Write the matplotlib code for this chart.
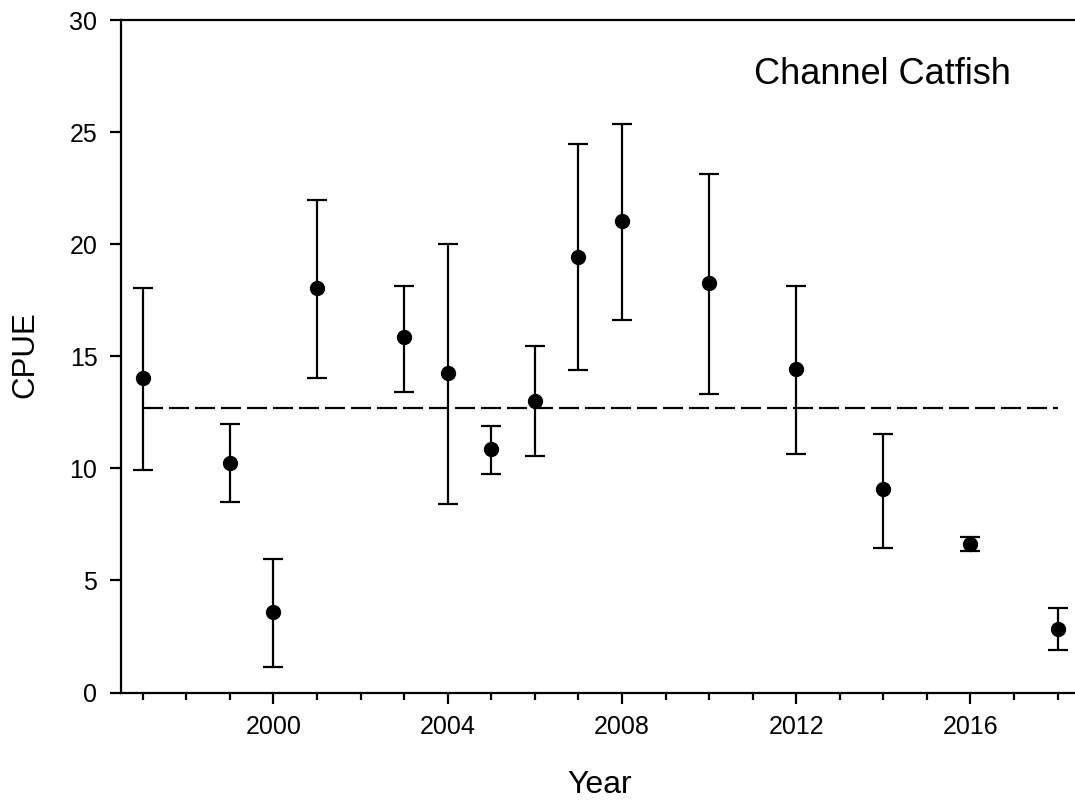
import matplotlib
matplotlib.use("Agg")
import matplotlib.pyplot as plt
from matplotlib.ticker import MultipleLocator, FixedLocator

plt.rcParams['font.family'] = ['Liberation Sans', 'DejaVu Sans']

# Data
years = [1997, 1999, 2000, 2001, 2003, 2004, 2005, 2006, 2007, 2008, 2010, 2012, 2014, 2016, 2018]
cpue = [14.04, 10.22, 3.60, 18.03, 15.84, 14.24, 10.85, 13.02, 19.41, 21.03, 18.25, 14.42, 9.06, 6.62, 2.82]
upper = [18.06, 11.98, 5.95, 21.97, 18.13, 19.99, 11.87, 15.44, 24.46, 25.36, 23.13, 18.13, 11.53, 6.93, 3.75]
lower = [9.92, 8.48, 1.15, 14.01, 13.39, 8.41, 9.75, 10.55, 14.38, 16.60, 13.30, 10.64, 6.45, 6.32, 1.88]
mean_cpue = 12.68
mean_span = [1997, 2018]
major_xticks = [2000, 2004, 2008, 2012, 2016]
title_text = "Channel Catfish"
xlabel = "Year"
ylabel = "CPUE"

W, H = 1075, 805
fig = plt.figure(figsize=(W / 100, H / 100), dpi=100)
left, right, top, bottom = 121, 1075, 20, 692.5
ax = fig.add_axes([left / W, (H - bottom) / H, (right - left) / W, (bottom - top) / H])

yerr = [[c - l for c, l in zip(cpue, lower)], [u - c for c, u in zip(cpue, upper)]]
ax.errorbar(years, cpue, yerr=yerr, fmt='o', color='black', ecolor='black',
            markersize=10, elinewidth=1.6, capsize=7.5, capthick=1.6, zorder=3)

ax.plot(mean_span, [mean_cpue, mean_cpue], color='black', lw=1.6,
        dashes=(9.0, 2.7), zorder=2)

ax.set_xlim(1996.5, 2018.4)
ax.set_ylim(0, 30)
ax.xaxis.set_major_locator(FixedLocator(major_xticks))
ax.xaxis.set_minor_locator(MultipleLocator(1))
ax.yaxis.set_major_locator(MultipleLocator(5))

for s in ['left', 'bottom', 'top']:
    ax.spines[s].set_linewidth(1.6)
ax.spines['right'].set_visible(False)

ax.tick_params(axis='both', which='major', direction='out', length=8, width=1.6,
               labelsize=18, colors='black')
ax.tick_params(axis='x', which='major', pad=8.5)
ax.tick_params(axis='y', which='major', pad=9)
ax.tick_params(axis='x', which='minor', direction='out', length=5, width=1.6)
ax.tick_params(top=False, right=False, which='both')

fig.text(600 / W, 1 - 785 / H, xlabel, fontsize=23, ha='center', va='center')
fig.text(25 / W, 1 - 355 / H, ylabel, fontsize=22.5, ha='center', va='center', rotation=90)
fig.text(882 / W, 1 - 75 / H, title_text, fontsize=26, ha='center', va='center')

fig.savefig("out.png", dpi=100)
